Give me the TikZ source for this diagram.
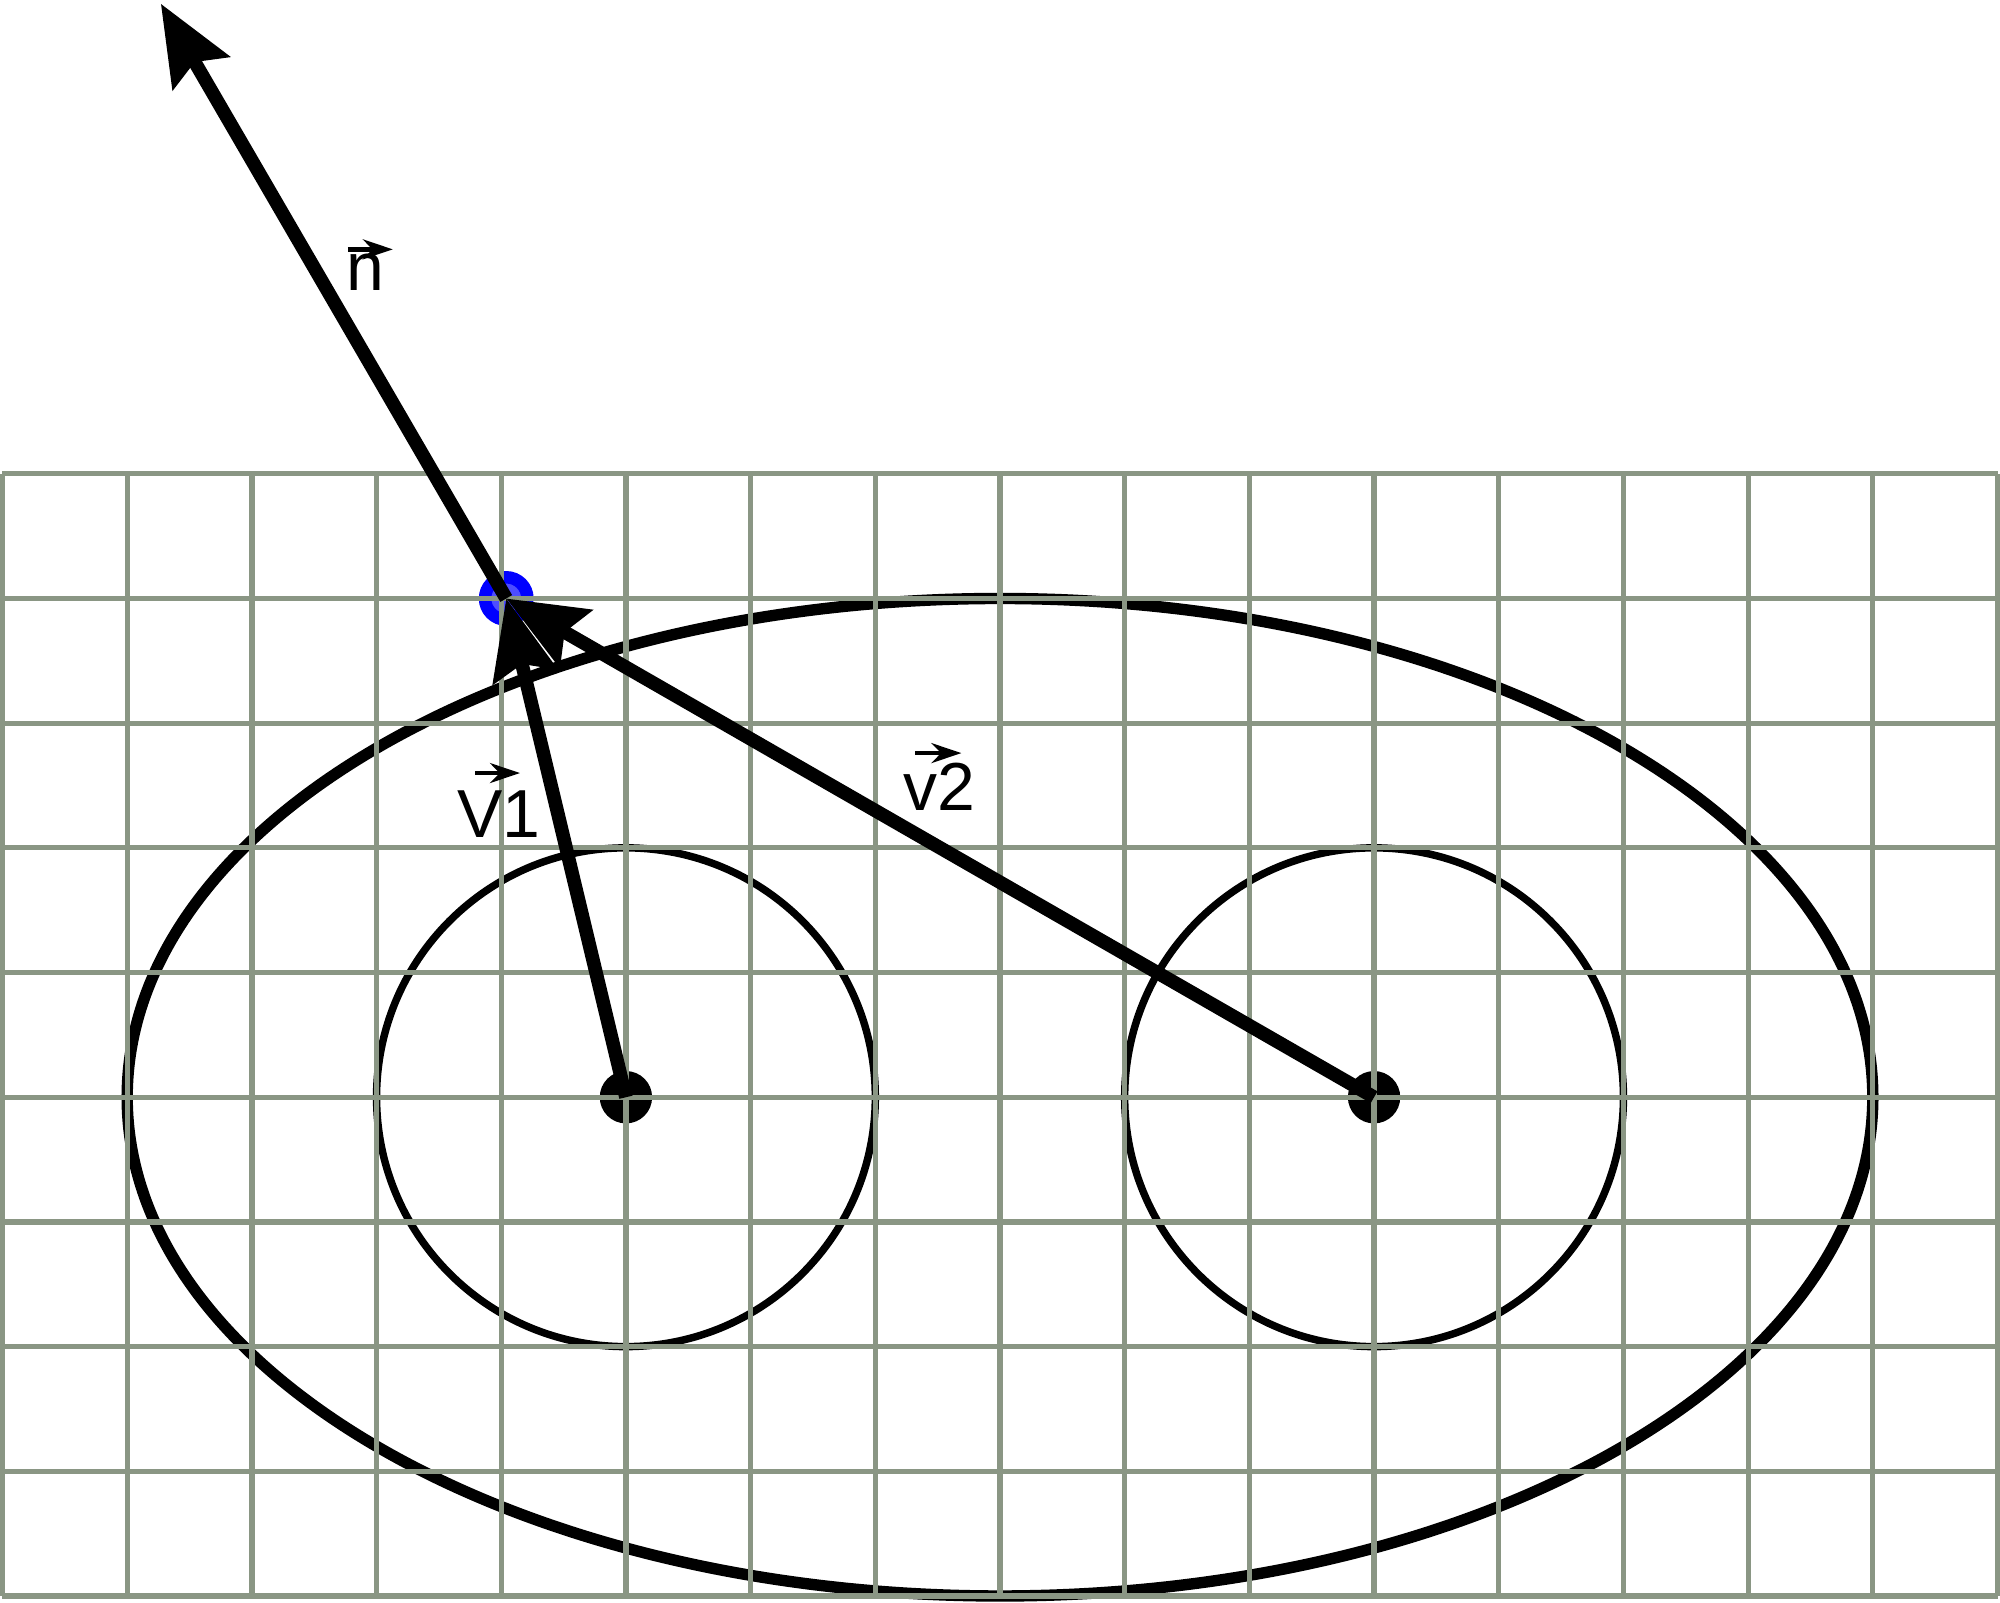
\documentclass[tikz,border=0pt]{standalone}
\usepackage{fontspec}
\setmainfont{Liberation Sans}
\usepackage{tikz}
\usetikzlibrary{positioning,calc,arrows.meta}
\definecolor{CGrid}{HTML}{8A9684}
\definecolor{CPoint}{HTML}{0000FF}
\definecolor{CPointIn}{HTML}{4D4DFF}

\begin{document}
\begin{tikzpicture}[x=1cm, y=1cm,
  gridline/.style={CGrid, line width=1.2pt},
  circ/.style={black, line width=1.7pt},
  bigcirc/.style={black, line width=2.6pt},
  vector/.style={black, line width=3.1pt, -{Stealth[length=0.64cm, width=0.52cm, inset=0.1cm]}},
  dot/.style={circle, fill=black, inner sep=0pt, minimum size=0.42cm},
  bluedot/.style={circle, draw=CPoint, fill=CPointIn, line width=0.1cm, inner sep=0pt, minimum size=0.34cm},
  veclabel/.style={font=\fontsize{15.5}{18}\selectfont, anchor=base, inner sep=0pt},
  labelarrow/.style={black, line width=1pt, -{Stealth[length=0.24cm, width=0.16cm]}}]
\useasboundingbox (-0.02,-0.05) rectangle (16.02,12.80);
% points
\coordinate (P) at (4.04,8);
\coordinate (ntip) at (1.27,12.77);
\node[dot] (c1) at (5,4) {};
\node[dot] (c2) at (11,4) {};
\node[bluedot] (pdot) at (P) {};
% ellipse and circles
\draw[bigcirc] (8,4) ellipse [x radius=7, y radius=4];
\draw[circ] (c1.center) circle [radius=2];
\draw[circ] (c2.center) circle [radius=2];
% grid
\foreach \x in {0,...,16}
  \draw[gridline] (\x,0) -- (\x,9);
\foreach \y in {0,...,9}
  \draw[gridline] (0,\y) -- (16,\y);
% vectors
\draw[vector] (c1.center) -- (P);
\draw[vector] (c2.center) -- (P);
\draw[vector] (P) -- (ntip);
% labels
\node[veclabel] (nlabel) at (2.91,10.47) {n};
\draw[labelarrow] ([shift={(-0.14,0.33)}]nlabel.base) -- ([shift={(0.22,0.33)}]nlabel.base);
\node[veclabel] (vonelabel) at (3.98,6.08) {V1};
\draw[labelarrow] ([shift={(-0.19,0.52)}]vonelabel.base) -- ([shift={(0.17,0.52)}]vonelabel.base);
\node[veclabel] (vtwolabel) at (7.51,6.30) {v2};
\draw[labelarrow] ([shift={(-0.19,0.46)}]vtwolabel.base) -- ([shift={(0.18,0.46)}]vtwolabel.base);
\end{tikzpicture}
\end{document}
